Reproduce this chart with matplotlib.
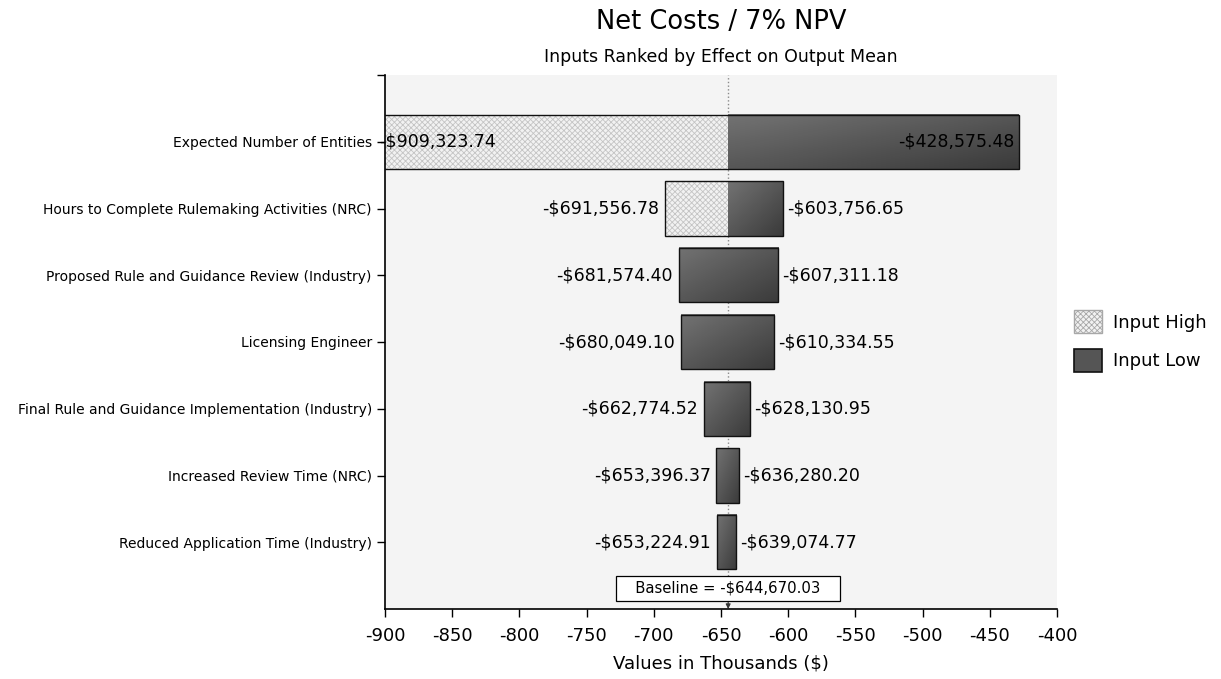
import numpy as np
import matplotlib
matplotlib.use('Agg')
import matplotlib.pyplot as plt
from matplotlib.patches import Patch

plt.rcParams['font.family'] = ['DejaVu Sans']
plt.rcParams['hatch.linewidth'] = 0.6

# dane
inputs = ['Expected Number of Entities',
          'Hours to Complete Rulemaking Activities (NRC)',
          'Proposed Rule and Guidance Review (Industry)',
          'Licensing Engineer',
          'Final Rule and Guidance Implementation (Industry)',
          'Increased Review Time (NRC)',
          'Reduced Application Time (Industry)']
left_values = [-909323.74, -691556.78, -681574.40, -680049.10, -662774.52, -653396.37, -653224.91]
right_values = [-428575.48, -603756.65, -607311.18, -610334.55, -628130.95, -636280.20, -639074.77]
left_is_high = [True, True, False, False, False, False, False]   # strona lewa = Input High ?
baseline = -644670.03
x_ticks = [-900, -850, -800, -750, -700, -650, -600, -550, -500, -450, -400]

fig = plt.figure(figsize=(12.21, 6.79), dpi=100)
ax = fig.add_axes([385/1221, 1-609/679, 672/1221, 534/679])
ax.set_facecolor('#f4f4f4')

xmin, xmax = -900, -400
base_k = baseline / 1000
h = 0.81

# gradient do ciemnych slupkow
gx = np.linspace(0, 1, 60)
grad = 0.45 - 0.11 * np.add.outer(gx, gx)

for i in range(len(inputs)):
    lo = left_values[i] / 1000
    hi = right_values[i] / 1000
    # czesc zakreskowana (Input High)
    dark_start = lo
    if left_is_high[i]:
        ax.barh(i, base_k - lo, left=lo, height=h, color='#f2f2f2', hatch='xxxxxx',
                edgecolor='#c4c4c4', linewidth=0, zorder=2)
        dark_start = base_k
    ax.imshow(grad, cmap='gray', vmin=0, vmax=1, interpolation='bilinear',
              extent=(dark_start, hi, i + h/2, i - h/2), aspect='auto', zorder=2)
    ax.barh(i, hi - lo, left=lo, height=h, fill=False, edgecolor='#111111',
            linewidth=1.0, zorder=3)

    # etykiety wartosci
    lt = '-${:,.2f}'.format(abs(left_values[i]))
    rt = '-${:,.2f}'.format(abs(right_values[i]))
    if lo - 100 < xmin:
        ax.annotate(lt, (xmin, i), xytext=(-4, 0), textcoords='offset points',
                    ha='left', va='center', fontsize=12.5, zorder=4, annotation_clip=False)
    else:
        ax.annotate(lt, (lo, i), xytext=(-4, 0), textcoords='offset points',
                    ha='right', va='center', fontsize=12.5, zorder=4)
    if hi + 100 > xmax:
        ax.annotate(rt, (hi, i), xytext=(-3, 0), textcoords='offset points',
                    ha='right', va='center', fontsize=12.5, zorder=4)
    else:
        ax.annotate(rt, (hi, i), xytext=(3, 0), textcoords='offset points',
                    ha='left', va='center', fontsize=12.5, zorder=4)

ax.axvline(base_k, color='#8a8a8a', linestyle=':', linewidth=1.0, zorder=1)

ax.set_xlim(xmin, xmax)
ax.set_ylim(7, -1)
ax.set_xticks(x_ticks)
ax.set_xticklabels([str(t) for t in x_ticks], fontsize=13)
ax.set_yticks(range(len(inputs)))
ax.set_yticklabels(inputs, fontsize=10)
ax.set_yticks([-1], minor=True)
ax.tick_params(axis='both', which='both', direction='out', length=6, width=1)
ax.tick_params(axis='x', pad=7)
for s in ['top', 'right']:
    ax.spines[s].set_visible(False)
ax.spines['left'].set_linewidth(1.2)
ax.spines['bottom'].set_linewidth(1.2)

ax.set_xlabel('Values in Thousands ($)', fontsize=13, labelpad=7)

# baseline
ax.annotate('   Baseline = -${:,.2f}   '.format(abs(baseline)), xy=(base_k, 7), xytext=(base_k, 6.69),
            ha='center', va='center', fontsize=10.7, zorder=5,
            bbox=dict(boxstyle='square,pad=0.35', facecolor='white', edgecolor='black', linewidth=0.9),
            arrowprops=dict(arrowstyle='-|>', color='#333333', lw=0.8, mutation_scale=7,
                            shrinkA=0, shrinkB=0))

fig.text(721/1221, 1-22/679, 'Net Costs / 7% NPV', ha='center', va='center', fontsize=18.5)
fig.text(721/1221, 1-57/679, 'Inputs Ranked by Effect on Output Mean', ha='center', va='center', fontsize=12.5)

handles = [Patch(facecolor='#f2f2f2', hatch='xxxxxx', edgecolor='#a8a8a8', linewidth=1),
           Patch(facecolor='#555555', edgecolor='#111111', linewidth=1.2)]
fig.legend(handles, ['Input High', 'Input Low'], loc='center left',
           bbox_to_anchor=(1058/1221, 1-341/679), frameon=False, fontsize=13,
           handlelength=1.55, handleheight=1.55, labelspacing=0.9, handletextpad=0.6)

fig.savefig('out.png', dpi=100)
